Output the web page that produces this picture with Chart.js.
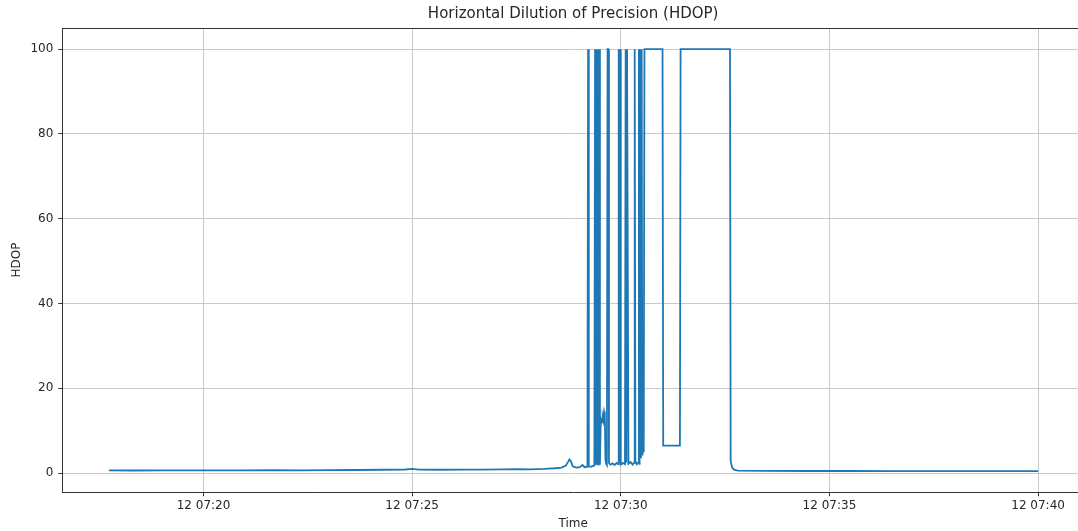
<html>
<head>
<style>
  html, body { margin:0; padding:0; overflow:hidden; background:#fff; }
</style>
<script src="https://cdn.jsdelivr.net/npm/chart.js@4.4.1/dist/chart.umd.min.js"></script>
<script type="text/javascript">

// HDOP log, one reading per row (time of day on the 12th)
var times = [
  "07:17:44","07:18:20","07:19:00","07:19:40","07:20:20","07:21:00","07:21:40","07:22:20",
  "07:23:00","07:23:40","07:24:20","07:24:50","07:25:00","07:25:10","07:25:40","07:26:10",
  "07:26:40","07:27:10","07:27:30","07:27:50","07:28:10","07:28:25","07:28:35","07:28:41",
  "07:28:44","07:28:46","07:28:48","07:28:51","07:28:56","07:29:01","07:29:05","07:29:08",
  "07:29:12","07:29:13","07:29:14","07:29:17","07:29:20","07:29:22","07:29:23","07:29:24",
  "07:29:25","07:29:26","07:29:27","07:29:28","07:29:29","07:29:30","07:29:31","07:29:32",
  "07:29:33","07:29:34","07:29:35","07:29:36","07:29:37","07:29:38","07:29:39","07:29:40",
  "07:29:41","07:29:42","07:29:43","07:29:45","07:29:48","07:29:51","07:29:54","07:29:56",
  "07:29:57","07:29:58","07:29:59","07:30:00","07:30:03","07:30:06","07:30:07","07:30:08",
  "07:30:09","07:30:10","07:30:11","07:30:14","07:30:17","07:30:19","07:30:20","07:30:21",
  "07:30:23","07:30:25","07:30:26","07:30:27","07:30:28","07:30:29","07:30:30","07:30:31",
  "07:30:32","07:30:33","07:30:34","07:31:00","07:31:01","07:31:25","07:31:26","07:32:37",
  "07:32:38","07:32:40","07:32:43","07:32:48","07:33:30","07:34:30","07:35:30","07:36:30",
  "07:37:30","07:38:30","07:39:30","07:40:00"
];
var hdop = [
  0.65, 0.62, 0.65, 0.63, 0.66, 0.65, 0.68, 0.67,
  0.72, 0.74, 0.80, 0.85, 1.0, 0.82, 0.80, 0.84,
  0.82, 0.90, 0.95, 0.88, 1.0, 1.15, 1.3, 1.8,
  2.6, 3.2, 2.9, 1.6, 1.3, 1.4, 1.9, 1.4,
  1.5, 100, 1.6, 1.5, 1.7, 1.8, 100, 1.9,
  100, 2.2, 100, 1.8, 100, 2.0, 11, 12.5,
  12, 13.2, 12.4, 14.5, 13.8, 3, 2.2, 1.9,
  100, 100, 2.4, 2.0, 2.3, 1.9, 2.4, 2.1,
  100, 2.3, 100, 2.0, 2.4, 2.1, 100, 2.5,
  100, 100, 2.2, 2.6, 2.0, 2.4, 100, 2.8,
  2.1, 2.5, 100, 2.0, 100, 3.5, 100, 4.2,
  5.2, 6.5, 100, 100, 6.5, 6.5, 100, 100,
  2.8, 1.3, 0.8, 0.6, 0.52, 0.5, 0.5, 0.48,
  0.48, 0.48, 0.47, 0.47
];

var xTickLabels = ["07:20","07:25","07:30","07:35","07:40"];
var yTicks = [0, 20, 40, 60, 80, 100];
var dayLabel = "12";

var FONT = "'DejaVu Sans', Verdana, sans-serif";
var INK = "#262626";

function toSec(s) {
  var p = s.split(":");
  return (+p[0]) * 3600 + (+p[1]) * 60 + (p.length > 2 ? +p[2] : 0);
}
function pad2(n) { return (n < 10 ? "0" : "") + n; }

// title + full box around the plot area
var framePlugin = {
  id: "frame",
  afterDraw: function (chart) {
    var a = chart.chartArea, ctx = chart.ctx;
    ctx.save();
    ctx.strokeStyle = "#333";
    ctx.lineWidth = 1;
    ctx.beginPath();
    ctx.moveTo(a.left, a.top + 0.5);
    ctx.lineTo(a.right, a.top + 0.5);
    ctx.moveTo(a.right - 0.5, a.top);
    ctx.lineTo(a.right - 0.5, a.bottom);
    ctx.stroke();
    ctx.fillStyle = INK;
    ctx.font = "15px " + FONT;
    ctx.textAlign = "center";
    ctx.textBaseline = "middle";
    ctx.fillText("Horizontal Dilution of Precision (HDOP)", (a.left + a.right) / 2, 14);
    ctx.restore();
  }
};

function init() {
  var pts = [];
  for (var i = 0; i < times.length; i++) {
    pts.push({ x: toSec(times[i]), y: hdop[i] });
  }

  var ctx = document.getElementById("canvasDiv");
  new Chart(ctx, {
    type: "line",
    data: {
      datasets: [{
        data: pts,
        borderColor: "#1f77b4",
        borderWidth: 1.8,
        pointRadius: 0,
        tension: 0,
        fill: false
      }]
    },
    options: {
      responsive: false,
      animation: false,
      devicePixelRatio: 1,
      layout: { padding: { top: 28, right: 62, left: 6, bottom: 0 } },
      plugins: {
        legend: { display: false },
        tooltip: { enabled: false },
        title: { display: false }
      },
      scales: {
        x: {
          type: "linear",
          min: toSec("07:16:37"),
          max: toSec("07:41:06"),
          afterBuildTicks: function (axis) {
            axis.ticks = xTickLabels.map(function (t) { return { value: toSec(t) }; });
          },
          ticks: {
            color: INK,
            font: { family: FONT, size: 12 },
            padding: 2,
            maxRotation: 0,
            callback: function (v) {
              var h = Math.floor(v / 3600), m = Math.floor((v % 3600) / 60);
              return dayLabel + " " + pad2(h) + ":" + pad2(m);
            }
          },
          grid: { color: "#c9c9c9", lineWidth: 1, tickLength: 4, tickColor: "#333" },
          border: { color: "#333", width: 1 },
          title: {
            display: true, text: "Time", color: INK,
            font: { family: FONT, size: 12 },
            padding: { top: 2, bottom: 0 }
          }
        },
        y: {
          min: -4.5,
          max: 105,
          afterBuildTicks: function (axis) {
            axis.ticks = yTicks.map(function (v) { return { value: v }; });
          },
          ticks: {
            color: INK,
            font: { family: FONT, size: 12 },
            padding: 5
          },
          grid: { color: "#c9c9c9", lineWidth: 1, tickLength: 4, tickColor: "#333" },
          border: { color: "#333", width: 1 },
          title: {
            display: true, text: "HDOP", color: INK,
            font: { family: FONT, size: 12 },
            padding: { top: 4, bottom: 1 }
          }
        }
      }
    },
    plugins: [framePlugin]
  });
}

</script>
</head>

<body onLoad="init()">
  <canvas id="canvasDiv" width="1146" height="531"></canvas>
</body>
</html>
